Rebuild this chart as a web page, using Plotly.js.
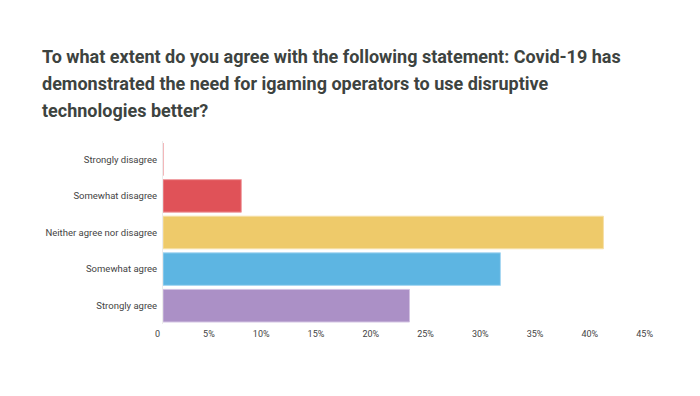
<!DOCTYPE html>
<html><head><meta charset="utf-8">
<script src="https://cdn.plot.ly/plotly-3.0.1.min.js"></script>
<style>html,body{margin:0;padding:0;background:#fff}#chart{width:700px;height:396px}</style>
</head><body><div id="chart"></div>
<script>
const categories = ["Strongly disagree","Somewhat disagree","Neither agree nor disagree","Somewhat agree","Strongly agree"];
const values = [0, 7.15, 40.2, 30.8, 22.5];
const barColors = ["#e05258","#e05258","#eeca6a","#5db5e2","#ab90c6"];
const edgeColors = ["#f0a0a4","#f0a0a4","#f6e0a8","#a8d8f2","#d2c2e2"];
const tickVals = [0,5,10,15,20,25,30,35,40,45];
const tickText = ["0","5%","10%","15%","20%","25%","30%","35%","40%","45%"];
const titleLines = [
  "To what extent do you agree with the following statement: Covid-19 has",
  "demonstrated the need for igaming operators to use disruptive",
  "technologies better?"
];

const W = 700, H = 396, M = {l: 163, r: 44, t: 141, b: 72};
const plotH = H - M.t - M.b;
const lineCenters = [56.5, 83.5, 110];
const annotations = titleLines.map((t, i) => ({
  text: t, xref: "paper", yref: "paper",
  x: (40 - M.l) / (W - M.l - M.r), xanchor: "left",
  y: (H - M.b - lineCenters[i]) / plotH, yanchor: "middle",
  showarrow: false,
  font: {family: "Roboto, sans-serif", size: 18, weight: 700, color: "#3d4340"}
}));

Plotly.newPlot("chart", [{
  type: "bar", orientation: "h",
  y: categories, x: values,
  marker: {color: barColors, line: {color: edgeColors, width: 1}},
  hoverinfo: "skip"
}], {
  width: W, height: H,
  margin: M,
  paper_bgcolor: "#fff", plot_bgcolor: "#fff",
  bargap: 0.11,
  showlegend: false,
  annotations: annotations,
  xaxis: {
    range: [0, 45], tickvals: tickVals, ticktext: tickText,
    showgrid: false, zeroline: false, showline: false,
    ticks: "", ticklabelposition: "outside left", ticklabelshift: -3, ticklabelstandoff: 3,
    tickfont: {family: "Roboto, sans-serif", size: 9, color: "#444"}
  },
  yaxis: {
    autorange: "reversed", categoryorder: "array", categoryarray: categories,
    showgrid: false, zeroline: false, showline: true, linecolor: "#ececec", linewidth: 1,
    ticks: "", ticklabelstandoff: 3,
    tickfont: {family: "Roboto, sans-serif", size: 9.5, color: "#444"}
  }
}, {staticPlot: true, displayModeBar: false});
</script></body></html>
